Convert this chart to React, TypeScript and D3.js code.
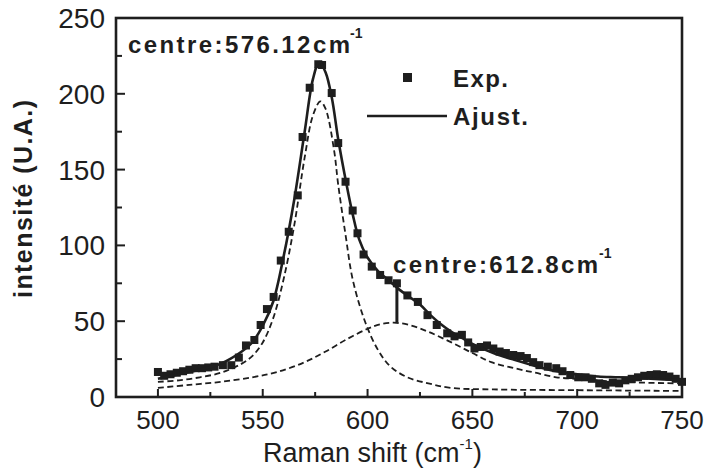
import React from "react";
import * as d3 from "d3";

// Experimental points [Raman shift, intensity]
const expX = [500, 503, 506, 509, 512, 515, 518, 521, 524, 527, 531, 535, 538.6, 542, 546, 549, 552, 555.2, 558.6, 562.4, 566.7, 569, 572.4, 576.5, 578.3, 582.9, 586, 589.5, 592.9, 595.2, 598.1, 602, 606, 610, 614, 619, 624, 628.6, 633, 638, 641.5, 645, 648, 651, 654, 657, 660, 663, 666, 669.5, 673, 676, 679, 682, 686, 690, 693, 696.7, 700.5, 704, 707, 710.5, 713.5, 717, 720, 723, 726, 729, 732, 735, 738, 741, 744, 747, 750];
const expY = [16.5, 14, 15, 16, 17, 18, 19, 19, 19.5, 20, 21, 21, 26, 34, 37.6, 47.5, 58, 66, 90, 109, 133, 171.5, 204, 219.5, 219, 200.5, 167.5, 142, 123, 108, 94, 86, 80.5, 77, 75, 67, 62.7, 54, 47.5, 42, 40, 41, 36, 32, 33, 34, 32, 30, 29, 27.7, 27, 25.7, 23, 21, 20, 19, 17, 14.5, 13, 13, 12, 9, 8, 9.5, 9, 11, 12, 13, 14, 14.5, 15, 14.5, 13.5, 12, 10];

// Fitted curve (sum)
const fitX = [500, 510, 520, 530, 540, 545, 550, 555, 560, 565, 570, 574, 577, 580, 583, 586, 590, 593, 596, 600, 605, 610, 615, 620, 625, 630, 635, 640, 645, 650, 660, 670, 680, 690, 700, 710, 720, 735, 750];
const fitY = [12, 15, 18, 22, 30, 36, 47, 63, 93, 130, 175, 210, 221, 214, 197, 170, 140, 120, 104, 92, 83, 77, 71, 66, 61, 54, 48, 43, 39, 35, 29, 24.5, 20.5, 17, 15, 13.5, 13, 12, 11];

// Component 1 (centre 576.12)
const c1X = [500, 510, 520, 530, 540, 545, 550, 555, 560, 565, 570, 574, 577.5, 580, 584, 586, 589.5, 593, 599, 605, 611, 619, 629, 640, 660, 700, 750];
const c1Y = [10, 11, 13, 16, 22, 27, 36, 52, 78, 113, 158, 186, 195, 190, 163, 140, 107, 77, 49, 31, 20, 13, 9, 6, 5, 4.5, 4];

// Component 2 (centre 612.8)
const c2X = [500, 515, 530, 545, 557, 570, 580, 590, 600, 606, 612.5, 620, 629, 640, 650, 659, 670, 680, 690, 700, 720, 748, 750];
const c2Y = [6, 8, 10, 13, 16.5, 23, 30, 38, 45, 48, 49, 47.5, 43, 36, 29, 23, 19, 16, 13, 12, 10, 9, 9];

const xTicks = [500, 550, 600, 650, 700, 750];
const xMinor = [525, 575, 625, 675, 725];
const yTicks = [0, 50, 100, 150, 200, 250];
const yMinor = [25, 75, 125, 175, 225];

const W = 709, H = 470;
const L = 116, R = 682, T = 18, B = 397;
const ink = "#1e1e1e";

export default function App() {
  const x = d3.scaleLinear().domain([480, 750]).range([L, R]);
  const y = d3.scaleLinear().domain([0, 250]).range([B, T]);
  const line = d3
    .line<[number, number]>()
    .x((d) => x(d[0]))
    .y((d) => y(d[1]))
    .curve(d3.curveCatmullRom.alpha(0.5));
  const zip = (a: number[], b: number[]) => a.map((v, i) => [v, b[i]] as [number, number]);
  const font = "Arial, 'Liberation Sans', sans-serif";
  return (
    <svg width={W} height={H} style={{ position: "absolute", left: 0, top: 0, background: "#fff" }} fontFamily={font}>
      <rect x={0} y={0} width={W} height={H} fill="#fff" />
      {/* dashed components */}
      <path d={line(zip(c1X, c1Y)) || ""} fill="none" stroke={ink} strokeWidth={1.8} strokeDasharray="6,3.5" />
      <path d={line(zip(c2X, c2Y)) || ""} fill="none" stroke={ink} strokeWidth={1.8} strokeDasharray="6,3.5" />
      {/* experimental points */}
      {expX.map((v, i) => (
        <rect key={i} x={x(v) - 4} y={y(expY[i]) - 4} width={8} height={8} fill={ink} />
      ))}
      {/* fit */}
      <path d={line(zip(fitX, fitY)) || ""} fill="none" stroke={ink} strokeWidth={2.6} />
      {/* centre marker */}
      <line x1={x(614)} x2={x(614)} y1={y(77)} y2={y(49)} stroke={ink} strokeWidth={3} />
      {/* frame */}
      <rect x={L} y={T} width={R - L} height={B - T} fill="none" stroke={ink} strokeWidth={2.6} />
      {/* ticks */}
      {xTicks.map((t) => (
        <g key={"xt" + t}>
          <line x1={x(t)} x2={x(t)} y1={B} y2={B - 8} stroke={ink} strokeWidth={2} />
          <text x={x(t)} y={429} fontSize={26} textAnchor="middle" fill={ink}>{t}</text>
        </g>
      ))}
      {xMinor.map((t) => (
        <line key={"xm" + t} x1={x(t)} x2={x(t)} y1={B} y2={B - 5} stroke={ink} strokeWidth={2} />
      ))}
      {yTicks.map((t) => (
        <g key={"yt" + t}>
          <line x1={L} x2={L + 9} y1={y(t)} y2={y(t)} stroke={ink} strokeWidth={2} />
          <text x={105} y={y(t) + 10} fontSize={28} textAnchor="end" fill={ink}>{t}</text>
        </g>
      ))}
      {yMinor.map((t) => (
        <line key={"ym" + t} x1={L} x2={L + 6} y1={y(t)} y2={y(t)} stroke={ink} strokeWidth={2} />
      ))}
      {/* axis titles */}
      <text x={263} y={462} fontSize={27} fill={ink}>
        Raman shift (cm
        <tspan dy={-13} fontSize={15}>-1</tspan>
        <tspan dy={13}>)</tspan>
      </text>
      <text transform="translate(32,199) rotate(-90)" fontSize={25} fontWeight="bold" textAnchor="middle" fill={ink} textLength={198} lengthAdjust="spacing">
        intensité (U.A.)
      </text>
      {/* annotations */}
      <text x={128} y={53} fontSize={24} fontWeight="bold" fill={ink} textLength={222} lengthAdjust="spacing">centre:576.12cm</text>
      <text x={350} y={38} fontSize={14} fontWeight="bold" fill={ink}>-1</text>
      <text x={393} y={273} fontSize={24} fontWeight="bold" fill={ink} textLength={205} lengthAdjust="spacing">centre:612.8cm</text>
      <text x={599} y={258} fontSize={14} fontWeight="bold" fill={ink}>-1</text>
      {/* legend */}
      <rect x={403} y={73} width={9} height={9} fill={ink} />
      <text x={453} y={87} fontSize={24} fontWeight="bold" fill={ink} textLength={55} lengthAdjust="spacing">Exp.</text>
      <line x1={367} x2={447} y1={116} y2={116} stroke={ink} strokeWidth={2.6} />
      <text x={453} y={125} fontSize={24} fontWeight="bold" fill={ink} textLength={75} lengthAdjust="spacing">Ajust.</text>
    </svg>
  );
}
